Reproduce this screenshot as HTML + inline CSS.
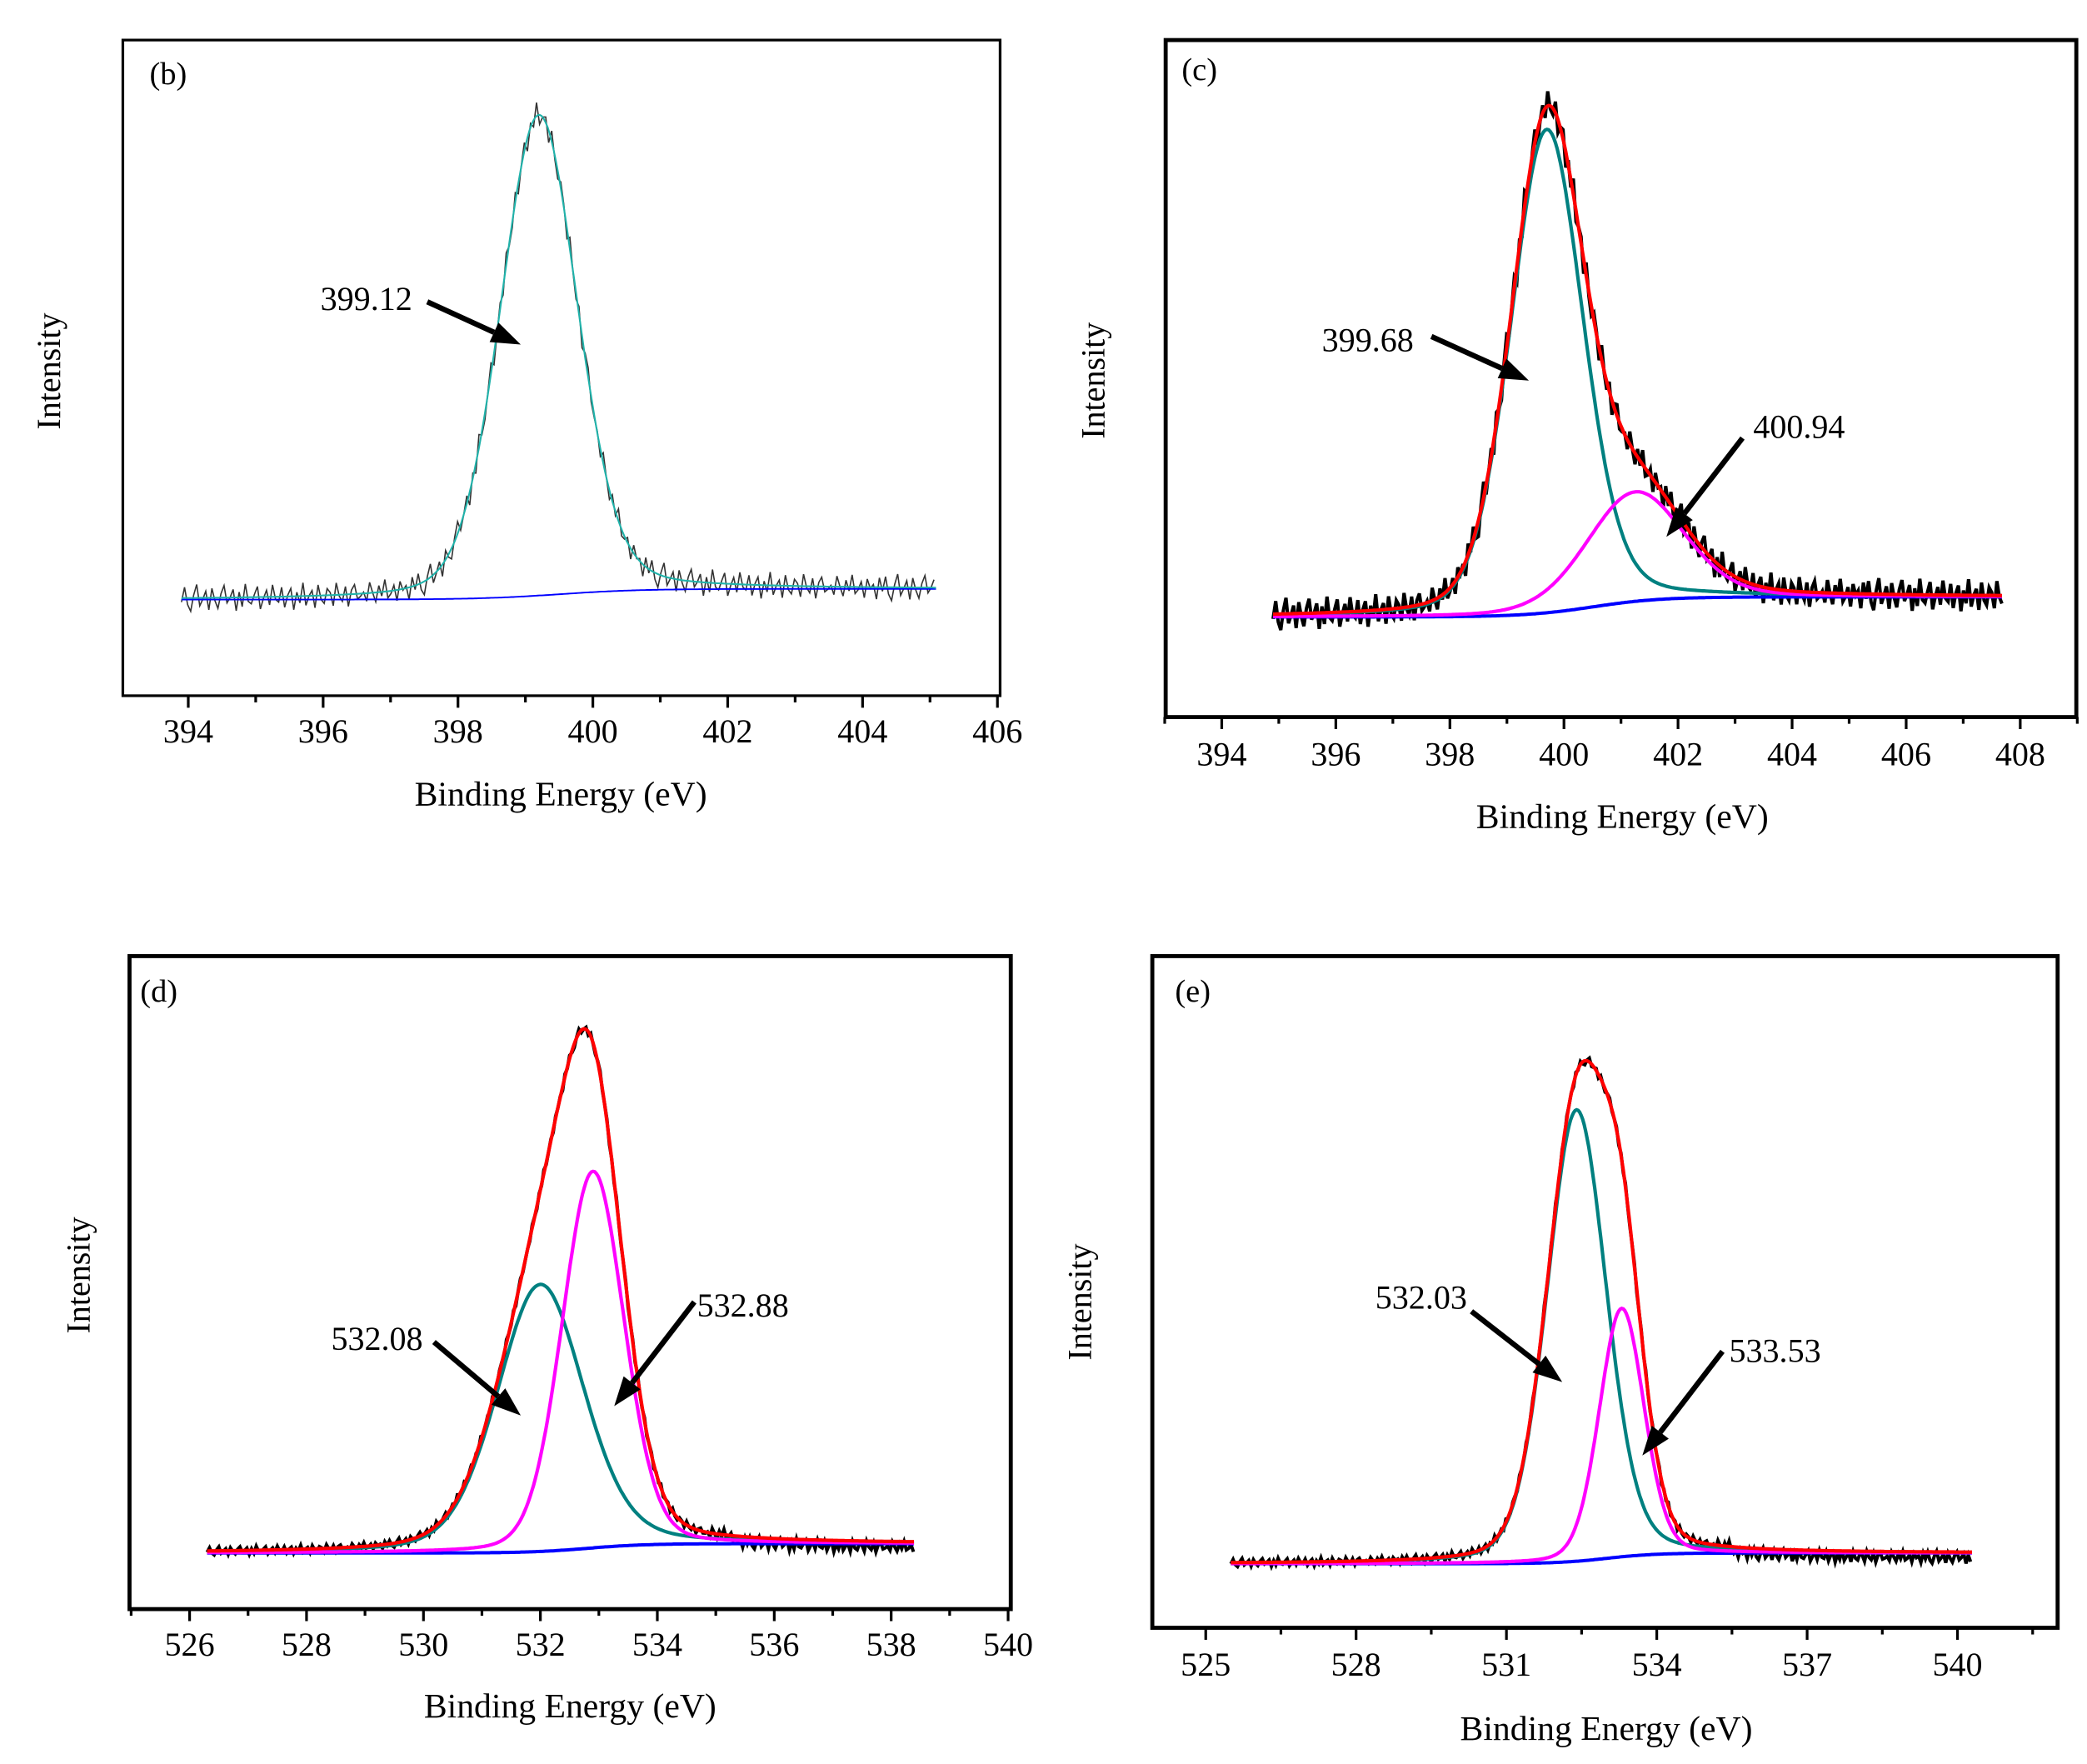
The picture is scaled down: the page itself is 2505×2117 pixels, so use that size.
<!DOCTYPE html>
<html><head><meta charset="utf-8">
<style>
html,body{margin:0;padding:0;background:#fff;}
svg{display:block;}
text{font-family:"Liberation Serif",serif;fill:#000;}
</style></head>
<body>
<svg id="fig" width="2505" height="2117" viewBox="0 0 1563 1321" preserveAspectRatio="none" xmlns="http://www.w3.org/2000/svg"></svg>
<script>
// ---- data: peak fit components (center eV, height, FWHM, lorentz fraction) ----
const panelIds = ["b","c","d","e"];
const rangeB = [393.9, 405.1];
const rangeC = [394.9, 407.7];
const rangeD = [526.3, 538.4];
const rangeE = [525.5, 540.3];
const baselineB = [449, 441, 399.5, 0.6];
const baselineC = [462, 447, 400.5, 0.6];
const baselineD = [1163, 1156, 532.8, 0.5];
const baselineE = [1171, 1163, 533.0, 0.5];
const peaksB = [[399.2, 360, 1.35, 0.2]];
const peaksC = [[399.7, 362, 1.5, 0.2],[401.25, 82, 2.0, 0.2]];
const peaksD = [[532.0, 200, 1.75, 0.25],[532.9, 282, 1.25, 0.15]];
const peaksE = [[532.4, 338, 1.4, 0.2],[533.3, 186, 1.05, 0.15]];
const noise = [0.3,-0.8,0.5,1.0,-0.2,-1.0,0.6,0.1,-0.5,0.9,-0.7,0.2,0.8,-0.3,-0.9,0.4,0.0,-0.6,1.0,-0.4,0.7,-1.0,0.3,0.5,-0.2,-0.8,0.9,0.1,-0.5,0.6,-0.9,0.2,0.4,-0.7,0.8,-0.1,-0.6,1.0,-0.3,0.5,-1.0,0.7,0.0,-0.4,0.9,-0.8,0.3,0.6,-0.5,-0.2,0.8,-0.9,0.1,0.5,-0.6,0.9,-0.3,-0.7,0.4,0.2,-0.1,0.6,-0.8,0.0,0.7,-0.5,0.3,-0.9,0.5,0.2,-0.4,0.8,-0.6,0.1,-0.2,0.9,-0.7];
const ticksB = [394,396,398,400,402,404,406];
const ticksC = [394,396,398,400,402,404,406,408];
const ticksD = [526,528,530,532,534,536,538,540];
const ticksE = [525,528,531,534,537,540];
const annB = ["399.12"];
const annC = ["399.68","400.94"];
const annD = ["532.08","532.88"];
const annE = ["532.03","533.53"];

const NS="http://www.w3.org/2000/svg";
const svg=document.getElementById('fig');
function mk(tag,attrs,parent){const e=document.createElementNS(NS,tag);for(const k in attrs)e.setAttribute(k,attrs[k]);(parent||svg).appendChild(e);return e;}

function pv(x,p){const d=x-p[0],f=p[2];const g=Math.exp(-4*Math.LN2*d*d/(f*f));const l=1/(1+4*d*d/(f*f));return p[1]*(p[3]*l+(1-p[3])*g);}
function base(x,b){return b[0]+(b[1]-b[0])/(1+Math.exp(-(x-b[2])/b[3]));}

const layouts={
 b:{frame:[92,30,749,521],x0:394,px0:141,x1:406,px1:747,minor:1,range:rangeB,bl:baselineB,peaks:peaksB,ticks:ticksB,ann:annB,namp:10,rawStep:0.045,thin:true,
    label:[112,63],xt:[420,603],yt:[45,278],tickY:556,
    anns:[[240,232,320,226,390,258]]},
 c:{frame:[873,30,1555,537],x0:394,px0:915,x1:408,px1:1513,minor:1,range:rangeC,bl:baselineC,peaks:peaksC,ticks:ticksC,ann:annC,namp:12,rawStep:0.045,
    label:[885,60],xt:[1215,620],yt:[827,285],tickY:573,
    anns:[[990,263,1072,252,1145,285],[1313,328,1305,328,1248,402]]},
 d:{frame:[97,716,757,1205],x0:526,px0:142,x1:540,px1:755,minor:1,range:rangeD,bl:baselineD,peaks:peaksD,ticks:ticksD,ann:annD,namp:3,rawStep:0.04,
    label:[105,750],xt:[427,1286],yt:[67,955],tickY:1240,
    anns:[[248,1011,325,1005,390,1060],[522,986,520,975,460,1053]]},
 e:{frame:[863,716,1541,1219],x0:525,px0:903,x1:540,px1:1466,minor:1.5,range:rangeE,bl:baselineE,peaks:peaksE,ticks:ticksE,ann:annE,namp:3,rawStep:0.045,
    label:[880,750],xt:[1203,1303],yt:[817,975],tickY:1255,
    anns:[[1030,980,1102,982,1170,1035],[1295,1020,1290,1012,1230,1090]]}
};

function arrow(g,x1,y1,x2,y2){
  const a=Math.atan2(y2-y1,x2-x1),L=22,W=8;
  const bx=x2-L*Math.cos(a),by=y2-L*Math.sin(a);
  const ln=mk('line',{x1:x1,y1:y1,x2:bx,y2:by,stroke:'#000','stroke-width':4},g);
  
  
  const pts=[[x2,y2],[bx+W*Math.sin(a),by-W*Math.cos(a)],[bx-W*Math.sin(a),by+W*Math.cos(a)]].map(p=>p.join(',')).join(' ');
  const hd=mk('polygon',{points:pts,fill:'#000'},g);
  
  
}

panelIds.forEach(id=>{
  const P=layouts[id];
  const g=mk('g',{});
  
  
  const sx=(P.px1-P.px0)/(P.x1-P.x0);
  const X=v=>P.px0+(v-P.x0)*sx;
  const [fx0,fy0,fx1,fy1]=P.frame;
  const fr=mk('rect',{x:fx0,y:fy0,width:fx1-fx0,height:fy1-fy0,fill:'none',stroke:'#000','stroke-width':P.thin?2:3},g);
  
  
  for(let v=P.ticks[0]-P.minor*4;v<=P.ticks[P.ticks.length-1]+P.minor*4;v+=P.minor){
    const px=X(v); if(px<fx0-1||px>fx1+1)continue;
    const major=P.ticks.some(t=>Math.abs(t-v)<1e-6);
    const t=mk('line',{x1:px,y1:fy1,x2:px,y2:fy1+(major?9:5),stroke:'#000','stroke-width':2},g);
    
    
  }
  P.ticks.forEach(v=>{
    const tx=mk('text',{x:X(v),y:P.tickY,'text-anchor':'middle','font-size':25},g);
    tx.textContent=v;
    
    
  });
  const xt=mk('text',{x:P.xt[0],y:P.xt[1],'text-anchor':'middle','font-size':26},g);
  xt.textContent='Binding Energy (eV)';
  
  
  const yt=mk('text',{x:P.yt[0],y:P.yt[1],'text-anchor':'middle','font-size':25,transform:`rotate(-90 ${P.yt[0]} ${P.yt[1]})`},g);
  yt.textContent='Intensity';
  
  
  const lb=mk('text',{x:P.label[0],y:P.label[1],'font-size':24},g);
  lb.textContent='('+id+')';
  
  
  const mkxs=st=>{const a=[];for(let v=P.range[0];v<=P.range[1]+1e-9;v+=st)a.push(v);return a;};
  const xs=mkxs(0.03), rxs=mkxs(P.rawStep);
  const path=(arr,f)=>arr.map((v,i)=>(i?'L':'M')+X(v).toFixed(1)+','+f(v,i).toFixed(1)).join('');
  const env=v=>base(v,P.bl)-P.peaks.reduce((s,p)=>s+pv(v,p),0);
  const oxy=(id==='d'||id==='e');
  const raw=mk('path',{d:path(rxs,(v,i)=>env(v)+noise[i%noise.length]*P.namp*(oxy&&v>P.bl[2]+2?1.5:1)+(oxy&&v>P.bl[2]+2.5?4:0)),fill:'none',stroke:P.thin?'#333':'#000','stroke-width':P.thin?1:2.5},g);
  
  
  const bl=mk('path',{d:path(xs,v=>base(v,P.bl)),fill:'none',stroke:'#0000ff','stroke-width':P.thin?1.2:2.5},g);
  
  
  if(P.peaks.length===1){
    const c=mk('path',{d:path(xs,env),fill:'none',stroke:'#20b2aa','stroke-width':1.3},g);
    
    
  }else{
    const cols=['#008080','#ff00ff'];
    P.peaks.forEach((p,k)=>{
      const c=mk('path',{d:path(xs,v=>base(v,P.bl)-pv(v,p)),fill:'none',stroke:cols[k],'stroke-width':2.6},g);
      
      
    });
    const s=mk('path',{d:path(xs,env),fill:'none',stroke:'#ff0000','stroke-width':2.6},g);
    
    
  }
  P.anns.forEach((a,k)=>{
    const t=mk('text',{x:a[0],y:a[1],'font-size':25},g);
    t.textContent=P.ann[k];
    
    
    arrow(g,a[2],a[3],a[4],a[5]);
  });
});
</script>
</body></html>
